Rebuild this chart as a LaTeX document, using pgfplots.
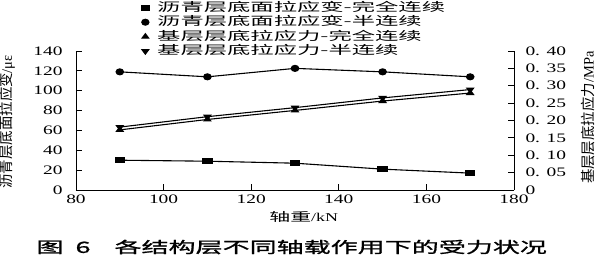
\documentclass[border=0pt]{standalone}
\usepackage{fontspec}
\setmainfont{Liberation Serif}[FakeStretch=1.5]
\newfontfamily\cjk{Noto Sans CJK SC}[FakeStretch=1.75]
\newfontfamily\cjkleg{Noto Sans CJK SC}[FakeStretch=1.95]
\newfontfamily\capfont{Noto Sans CJK SC}[FakeStretch=1.75, FakeBold=1.2]
\newfontfamily\cjkr{Noto Sans CJK SC}
\newfontfamily\serifr{Liberation Serif}
\usepackage{pgfplots}
\usepackage{pgfplotstable}
\pgfplotsset{compat=1.18}

\pgfplotstableread{
x    sq   ci
90   30   119
110  29   114
130  27   122.5
150  21   119
170  17   114
}\strain
\pgfplotstableread{
x    up     dn
90   0.173  0.181
110  0.203  0.211
130  0.229  0.237
150  0.256  0.265
170  0.279  0.289
}\stress

\begin{document}
\begin{tikzpicture}
\path[use as bounding box] (-76bp,-65bp) rectangle (524bp,190bp);
\begin{axis}[
  scale only axis, width=438bp, height=139bp,
  xmin=80, xmax=180, ymin=0, ymax=140,
  axis x line*=bottom, axis y line*=left,
  axis line style={line width=0.9pt},
  tick align=inside, major tick length=6bp,
  tick style={line width=0.8pt, black},
  xtick={80,100,120,140,160,180},
  xticklabels={80,100,120,140,160,180},
  ytick={0,20,40,60,80,100,120,140},
  yticklabels={0,20,40,60,80,100,120,140},
  ticklabel style={font=\fontsize{13}{13}\selectfont},
  yticklabel style={xshift=-10bp},
  xticklabel style={yshift=-1bp},
  xlabel={\cjk 轴重\rmfamily /kN},
  xlabel style={at={(axis description cs:0.52,-0.195)}, anchor=center, font=\fontsize{12}{12}\selectfont},
  ylabel={\cjkr 沥青层底面拉应变\serifr /με},
  ylabel style={at={(axis description cs:-0.157,0.49)}, anchor=center, font=\fontsize{14.5}{14.5}\selectfont},
  legend style={at={(axis description cs:0.149,1.365)}, anchor=north west, draw=none, fill=none,
    inner sep=0pt, row sep=0pt, column sep=7bp,
    nodes={inner sep=1pt, text height=10bp, text depth=2.5bp, font=\cjkleg\fontsize{12}{12}\selectfont}},
  legend cell align=left,
  every axis plot/.append style={line width=1.1pt, black},
]
\addlegendimage{only marks, mark=square*, mark size=2.6pt, mark options={xscale=1.5}}
\addlegendentry{沥青层底面拉应变-完全连续}
\addlegendimage{only marks, mark=*, mark size=3pt, mark options={xscale=1.2}}
\addlegendentry{沥青层底面拉应变-半连续}
\addlegendimage{only marks, mark=triangle*, mark size=3pt, mark options={xscale=1.3}}
\addlegendentry{基层层底拉应力-完全连续}
\addlegendimage{only marks, mark=triangle*, mark size=3pt, mark options={xscale=1.3, rotate=180}}
\addlegendentry{基层层底拉应力-半连续}
\addplot[mark=square*, mark size=2.6pt, mark options={xscale=1.8}, forget plot] table[x=x, y=sq] {\strain};
\addplot[mark=*, mark size=3pt, mark options={xscale=1.25}, forget plot] table[x=x, y=ci] {\strain};
\end{axis}
\begin{axis}[
  scale only axis, width=438bp, height=139bp,
  xmin=80, xmax=180, ymin=0, ymax=0.4,
  axis x line=none, axis y line*=right,
  axis line style={line width=0.9pt},
  tick align=inside, major tick length=6bp,
  tick style={line width=0.8pt, black},
  ytick={0,0.05,0.10,0.15,0.20,0.25,0.30,0.35,0.40},
  yticklabels={0,0. 05,0. 10,0. 15,0. 20,0. 25,0. 30,0. 35,0. 40},
  ticklabel style={font=\fontsize{13}{13}\selectfont},
  yticklabel style={xshift=8bp},
  ylabel={\cjkr 基层层底拉应力\serifr /MPa},
  ylabel style={at={(axis description cs:1.169,0.52)}, anchor=center, font=\fontsize{14.5}{14.5}\selectfont},
  every axis plot/.append style={line width=1.1pt, black},
]
\addplot[mark=triangle*, mark size=3pt, mark options={xscale=1.3}] table[x=x, y=up] {\stress};
\addplot[mark=triangle*, mark size=3pt, mark options={xscale=1.3, rotate=180}] table[x=x, y=dn] {\stress};
\end{axis}
\node[anchor=west, font=\capfont\fontsize{15.5}{15.5}\selectfont] at (-43bp,-57bp) {图\hspace{12bp}6\hspace{24bp}各结构层不同轴载作用下的受力状况};
\end{tikzpicture}
\end{document}
